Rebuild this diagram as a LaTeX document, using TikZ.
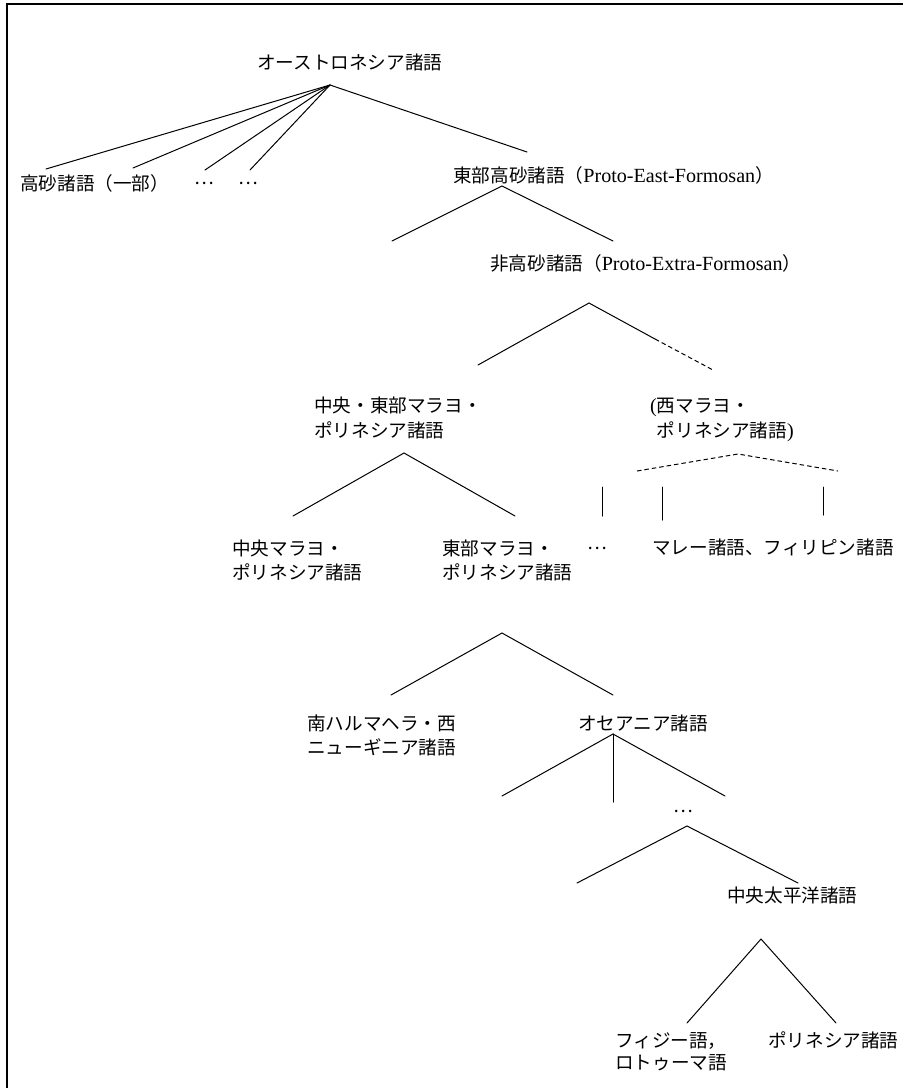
\documentclass[tikz,border=0pt]{standalone}
\usepackage{fontspec}
\setmainfont{Liberation Serif}
\newfontfamily\cjk{Noto Sans CJK JP}
\newfontfamily\latinfont[Scale=1.08]{Liberation Serif}
\newcommand\twoline[3][24pt]{\vtop{\baselineskip=#1\hbox{#2}\hbox{#3}}}
\begin{document}
\begin{tikzpicture}[x=1pt,y=-1pt,
  lbl/.style={inner sep=0pt, anchor=base west, font=\cjk\fontsize{18.6}{24}\selectfont},
  dots/.style={inner sep=0pt, anchor=center, font=\cjk\fontsize{18.6}{24}\selectfont},
  conn/.style={line width=1pt, line cap=round},
  dconn/.style={line width=1pt, dash pattern=on 4.5pt off 3pt}]
\useasboundingbox (0,0) rectangle (903,1088);
% frame (top and left only)
\coordinate (frBL) at (7,1088);
\coordinate (frTL) at (7,4);
\coordinate (frTR) at (903,4);
\draw[line width=1.3pt] (frBL) -- (frTL) -- (frTR);

% labels
\node[lbl] (root) at (257,69) {オーストロネシア諸語};
\node[lbl] (takasago) at (20,190) {高砂諸語（一部）};
\node[dots] (dotsA) at (204,183) {…};
\node[dots] (dotsB) at (248,183) {…};
\node[lbl] (east) at (453,182) {東部高砂諸語（{\latinfont Proto-East-Formosan}）};
\node[lbl] (extra) at (490,270) {非高砂諸語（{\latinfont Proto-Extra-Formosan}）};
\node[lbl] (cemp) at (314,412) {\twoline[25pt]{中央・東部マラヨ・}{ポリネシア諸語}};
\node[lbl] (wmp) at (650,412) {\twoline[25pt]{{\latinfont (}西マラヨ・}{{\latinfont\phantom{(}}ポリネシア諸語{\latinfont )}}};
\node[lbl] (cmp) at (232,555) {\twoline{中央マラヨ・}{ポリネシア諸語}};
\node[lbl] (emp) at (442,555) {\twoline{東部マラヨ・}{ポリネシア諸語}};
\node[dots] (dotsC) at (597,548) {…};
\node[lbl] (malay) at (652,554) {マレー諸語、フィリピン諸語};
\node[lbl] (shwng) at (307,730) {\twoline{南ハルマヘラ・西}{ニューギニア諸語}};
\node[lbl] (oceanic) at (578,730) {オセアニア諸語};
\node[dots] (dotsD) at (683,811) {…};
\node[lbl] (cpac) at (727,902) {中央太平洋諸語};
\node[lbl] (fiji) at (615,1047) {\twoline[22pt]{フィジー語，}{ロトゥーマ語}};
\node[lbl] (poly) at (768,1047) {ポリネシア諸語};

% branch points
\coordinate (tipRoot) at (330,85);
\coordinate (endTk) at (46,169);
\coordinate (endTk2) at (133,168);
\coordinate (endDA) at (205,170);
\coordinate (endDB) at (250,170);
\coordinate (endEast) at (527,152);

\coordinate (tipEast) at (502,186);
\coordinate (endEastL) at (392,241);
\coordinate (endEastR) at (613,241);

\coordinate (tipExtra) at (589,303);
\coordinate (endExtraL) at (478,365);
\coordinate (midExtraR) at (655,339);
\coordinate (endExtraR) at (713,370);

\coordinate (tipCemp) at (404,453);
\coordinate (endCempL) at (293,516);
\coordinate (endCempR) at (515,516);

\coordinate (tipWmp) at (738,454);
\coordinate (endWmpL) at (637,471);
\coordinate (endWmpR) at (838,471);

\coordinate (vAt) at (602,487);
\coordinate (vAb) at (602,516);
\coordinate (vBt) at (662,487);
\coordinate (vBb) at (662,520);
\coordinate (vCt) at (823,487);
\coordinate (vCb) at (823,515);

\coordinate (tipEmp) at (502,633);
\coordinate (endEmpL) at (391,695);
\coordinate (endEmpR) at (613,695);

\coordinate (tipOc) at (613,734);
\coordinate (endOcL) at (502,796);
\coordinate (endOcM) at (613,802);
\coordinate (endOcR) at (725,796);

\coordinate (tipDots) at (687,826);
\coordinate (endDotsL) at (577,883);
\coordinate (endDotsR) at (798,883);

\coordinate (tipCpac) at (761,939);
\coordinate (endCpacL) at (687,1023);
\coordinate (endCpacR) at (836,1023);

% connectors
\draw[conn] (endTk) -- (tipRoot) -- (endEast);
\draw[conn] (endTk2) -- (tipRoot);
\draw[conn] (endDA) -- (tipRoot);
\draw[conn] (endDB) -- (tipRoot);

\draw[conn] (endEastL) -- (tipEast) -- (endEastR);

\draw[conn] (endExtraL) -- (tipExtra) -- (midExtraR);
\draw[dconn] (midExtraR) -- (endExtraR);

\draw[conn] (endCempL) -- (tipCemp) -- (endCempR);
\draw[dconn] (endWmpL) -- (tipWmp) -- (endWmpR);

\draw[conn] (vAt) -- (vAb);
\draw[conn] (vBt) -- (vBb);
\draw[conn] (vCt) -- (vCb);

\draw[conn] (endEmpL) -- (tipEmp) -- (endEmpR);

\draw[conn] (endOcL) -- (tipOc) -- (endOcR);
\draw[conn] (tipOc) -- (endOcM);

\draw[conn] (endDotsL) -- (tipDots) -- (endDotsR);

\draw[conn] (endCpacL) -- (tipCpac) -- (endCpacR);
\end{tikzpicture}
\end{document}
